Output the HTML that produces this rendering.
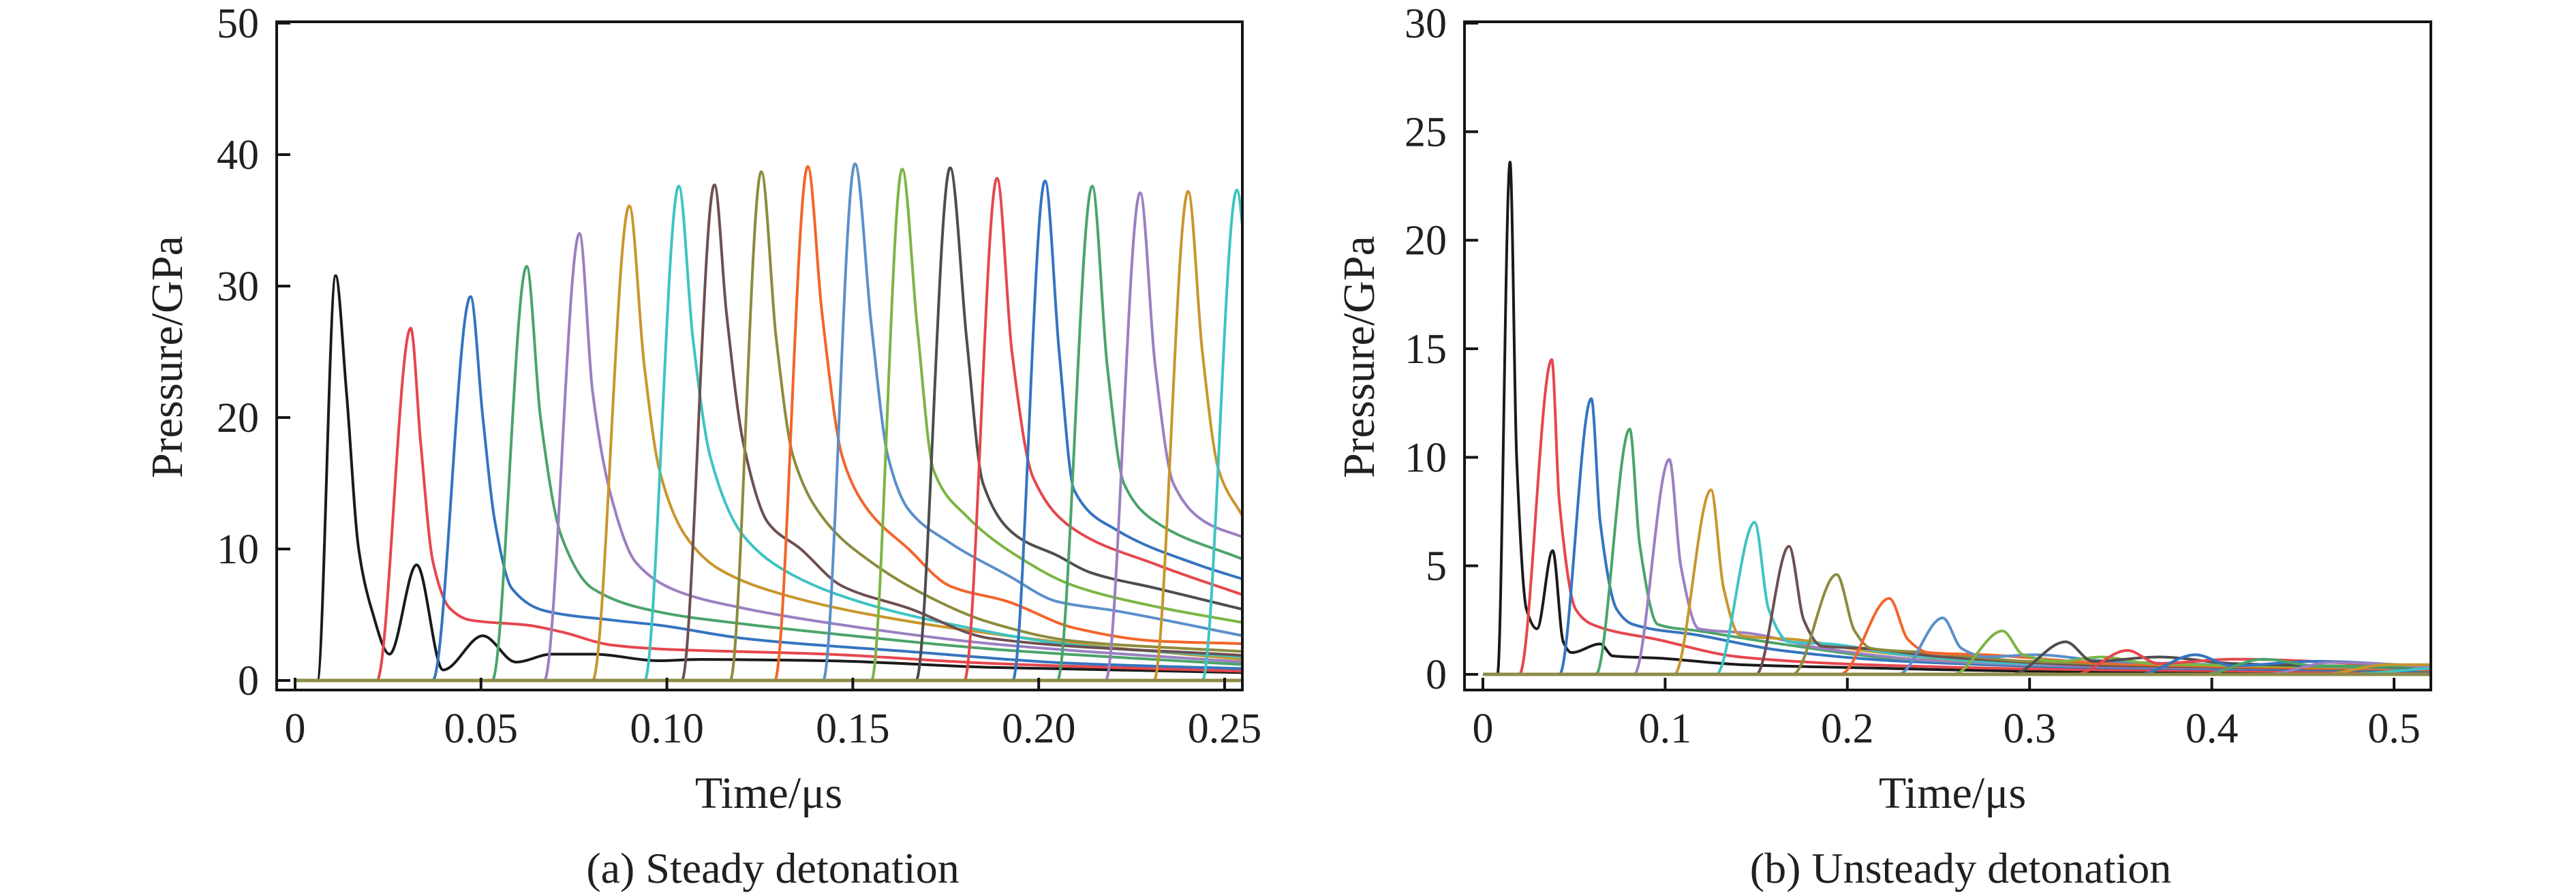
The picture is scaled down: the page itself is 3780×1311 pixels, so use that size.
<!DOCTYPE html>
<html><head><meta charset="utf-8"><style>
html,body{margin:0;padding:0;background:#fff;}
svg{display:block;}
text{font-family:"Liberation Serif",serif;fill:#231f20;}
</style></head><body>
<svg id="fig" width="3780" height="1311" viewBox="0 0 3780 1311" xmlns="http://www.w3.org/2000/svg"></svg>
<script>
// ---------- data: steady detonation (t in µs, p in GPa) ----------
const colors = ["#1a1a1a","#e5474d","#3474c0","#4ba46a","#9b7fc1","#c8962c","#3ec3c4","#6e4f50","#8d8b3d","#f2652a","#5b8fc9","#7cb544","#4d4d4d","#e5474d","#3474c0","#4ba46a","#9b7fc1","#c8962c","#3ec3c4"];
const steadyOnset = [0.006,0.022,0.037,0.053,0.067,0.080,0.094,0.104,0.117,0.129,0.142,0.155,0.167,0.180,0.193,0.205,0.218,0.231,0.244];
const steadyT = [
 [0.0109,0.0138,0.0171,0.0205,0.0254,0.0327,0.0398,0.0505,0.0594,0.069,0.080,0.098,0.109,0.143,0.187,0.255],
 [0.0311,0.0338,0.0371,0.0416,0.047,0.0627,0.0716,0.085,0.098,0.143,0.187,0.255],
 [0.0472,0.0505,0.0538,0.0583,0.0672,0.085,0.098,0.1206,0.165,0.2095,0.255],
 [0.0623,0.066,0.0716,0.080,0.098,0.1206,0.143,0.187,0.255],
 [0.0765,0.080,0.085,0.0916,0.1028,0.1206,0.143,0.187,0.255],
 [0.0899,0.0939,0.098,0.105,0.1139,0.1317,0.165,0.2095,0.255],
 [0.1032,0.107,0.1117,0.1206,0.134,0.154,0.176,0.2095,0.255],
 [0.1128,0.116,0.1206,0.1272,0.136,0.147,0.165,0.187,0.255],
 [0.1254,0.1294,0.134,0.143,0.154,0.1695,0.187,0.2095,0.255],
 [0.1379,0.1417,0.1472,0.154,0.165,0.176,0.1917,0.2095,0.2318,0.255],
 [0.1506,0.155,0.1595,0.165,0.176,0.1917,0.205,0.2206,0.255],
 [0.1633,0.1673,0.1717,0.1806,0.194,0.2095,0.2318,0.255],
 [0.1762,0.1806,0.185,0.194,0.205,0.214,0.2318,0.255],
 [0.1888,0.1928,0.1984,0.2095,0.2318,0.255],
 [0.2017,0.2055,0.2095,0.2206,0.2429,0.255],
 [0.2144,0.2184,0.2229,0.2318,0.255],
 [0.2273,0.2313,0.2362,0.2451,0.255],
 [0.2402,0.244,0.2484,0.255],
 [0.2533,0.256]
];
const steadyP = [
 [30.8,22,10,5.5,2.0,8.8,0.8,3.4,1.4,2.0,2.0,1.5,1.6,1.5,1.0,0.6],
 [26.8,18,9,5.5,4.6,4.2,3.7,2.7,2.4,2.0,1.3,0.7],
 [29.2,20,12,7,5.3,4.6,4.2,3.2,2.2,1.3,0.9],
 [31.5,20,11,7,5.2,4.3,3.6,2.4,1.2],
 [34.0,22,14,9,6.8,5.5,4.4,2.8,1.4],
 [36.1,24,16,11,8.5,6.5,4.5,2.8,1.6],
 [37.6,26,17,11,8,5.8,4.3,2.7,1.8],
 [37.7,28,18,12,10,7.2,5.5,3.2,1.9],
 [38.7,26,17,12,9.2,6.5,4.4,3.0,2.2],
 [39.1,28,17,13,10,7.2,6.0,4.0,3.0,2.8],
 [39.3,27,17,13,10.5,8,6,5.3,3.4],
 [38.9,27,16,12.5,9.5,7.2,5.6,4.4],
 [39.0,26,15,11,9.5,8.2,7,5.4],
 [38.2,25,15.5,11.5,8.8,6.5],
 [38.0,25,14.5,11.5,8.8,7.7],
 [37.6,24,15,12,9.2],
 [37.1,24,15,12,10.9],
 [37.2,25,16,12.4],
 [37.3,31]
];
// ---------- data: unsteady detonation ----------
const unsteadyOnset = [0.008,0.020,0.042,0.062,0.083,0.105,0.128,0.150,0.170,0.196,0.228,0.258,0.290,0.325,0.36,0.395,0.43,0.46,0.47];
const unsteadyT = [
 [0.0149,0.0185,0.0239,0.0297,0.0383,0.0441,0.0486,0.0644,0.0712,0.096,0.141,0.2086,0.2986,0.522],
 [0.0378,0.0419,0.0509,0.06,0.096,0.141,0.2086,0.3437,0.522],
 [0.0595,0.0644,0.0734,0.0824,0.1185,0.1635,0.231,0.3437,0.522],
 [0.0806,0.086,0.096,0.1185,0.1635,0.231,0.3437,0.522],
 [0.1023,0.1086,0.1185,0.1455,0.186,0.2536,0.3887,0.522],
 [0.1252,0.132,0.141,0.1725,0.2086,0.2761,0.522],
 [0.1491,0.1568,0.168,0.1905,0.231,0.2986,0.522],
 [0.168,0.1761,0.186,0.2086,0.2536,0.3437,0.522],
 [0.1941,0.204,0.213,0.2446,0.2986,0.522],
 [0.223,0.2333,0.2446,0.2761,0.3437,0.522],
 [0.2523,0.2626,0.2761,0.3032,0.3437,0.522],
 [0.2851,0.2964,0.3167,0.3392,0.3662,0.522],
 [0.3198,0.3347,0.3707,0.4113,0.522],
 [0.3536,0.3707,0.4113,0.522],
 [0.391,0.4113,0.4563,0.522],
 [0.4284,0.4563,0.522],
 [0.4653,0.522],
 [0.4968,0.522],
 [0.522]
];
const unsteadyP = [
 [23.6,10,3,2.1,5.7,1.5,1.0,1.4,0.85,0.75,0.45,0.3,0.15,0.05],
 [14.5,8,3,2.3,1.6,0.8,0.45,0.2,0.1],
 [12.7,7,3,2.3,1.8,1.1,0.6,0.3,0.15],
 [11.3,6,2.3,2.0,1.4,0.7,0.35,0.2],
 [9.9,5,2.1,1.9,1.2,0.6,0.3,0.25],
 [8.5,4,1.8,1.6,1.1,0.6,0.35],
 [7.0,3,1.5,1.4,0.9,0.5,0.35],
 [5.9,2.5,1.3,1.2,0.8,0.4,0.2],
 [4.6,2,1.2,1.0,0.6,0.2],
 [3.5,1.6,1.0,0.9,0.5,0.2],
 [2.6,1.2,0.8,0.9,0.6,0.25],
 [2.0,0.9,0.6,0.8,0.5,0.3],
 [1.5,0.6,0.8,0.5,0.3],
 [1.1,0.5,0.7,0.3],
 [0.9,0.4,0.6,0.35],
 [0.7,0.4,0.35],
 [0.55,0.35],
 [0.45,0.45],
 [0.3]
];
const steadyXTicks = [0,0.05,0.10,0.15,0.20,0.25];
const steadyXLabels = ["0","0.05","0.10","0.15","0.20","0.25"];
const steadyYTicks = [0,10,20,30,40,50];
const unsteadyXTicks = [0,0.1,0.2,0.3,0.4,0.5];
const unsteadyXLabels = ["0","0.1","0.2","0.3","0.4","0.5"];
const unsteadyYTicks = [0,5,10,15,20,25,30];

const NS="http://www.w3.org/2000/svg";
const svg=document.getElementById('fig');
function mk(tag,attrs,parent){const e=document.createElementNS(NS,tag);for(const k in attrs)e.setAttribute(k,attrs[k]);(parent||svg).appendChild(e);return e;}

function monotonePath(pts){
  const n=pts.length; if(n<2) return "";
  const dx=[],m=[],s=[];
  for(let i=0;i<n-1;i++){dx[i]=pts[i+1][0]-pts[i][0];s[i]=(pts[i+1][1]-pts[i][1])/(dx[i]||1e-9);}
  m[0]=s[0];m[n-1]=s[n-2];
  for(let i=1;i<n-1;i++){ if(s[i-1]*s[i]<=0) m[i]=0; else { const w1=2*dx[i]+dx[i-1], w2=dx[i]+2*dx[i-1]; m[i]=(w1+w2)/(w1/s[i-1]+w2/s[i]); } }
  let d="M"+pts[0][0].toFixed(1)+","+pts[0][1].toFixed(1);
  for(let i=0;i<n-1;i++){const h=dx[i]/3;
    d+="C"+(pts[i][0]+h).toFixed(1)+","+(pts[i][1]+m[i]*h).toFixed(1)+" "+(pts[i+1][0]-h).toFixed(1)+","+(pts[i+1][1]-m[i+1]*h).toFixed(1)+" "+pts[i+1][0].toFixed(1)+","+pts[i+1][1].toFixed(1);}
  return d;
}

function panel(cfg){
  const g=mk('g',{});
  
  
  const X=t=>cfg.x0+(t-cfg.t0)*cfg.xs, Y=p=>cfg.y0-p*cfg.ys;
  const cid='clip-'+cfg.name;
  const cp=mk('clipPath',{id:cid},g);
  mk('rect',{x:cfg.L,y:cfg.T,width:cfg.R-cfg.L,height:cfg.B-cfg.T},cp);
  const lines=mk('g',{'clip-path':'url(#'+cid+')'},g);
  
  
  for(let i=0;i<cfg.T_.length;i++){
    const pts=[[X(0),Y(0)],[X(cfg.onset[i]),Y(0)]];
    for(let j=0;j<cfg.T_[i].length;j++) pts.push([X(cfg.T_[i][j]),Y(cfg.P_[i][j])]);
    const p=mk('path',{d:monotonePath(pts),fill:'none',stroke:colors[i],'stroke-width':4,'stroke-linejoin':'round'},lines);
    
    
  }
  const bl=mk('line',{x1:X(0),x2:cfg.R,y1:Y(0),y2:Y(0),stroke:'#8d8b47','stroke-width':5},lines);
  
  
  const fr=mk('rect',{x:cfg.L,y:cfg.T,width:cfg.R-cfg.L,height:cfg.B-cfg.T,fill:'none',stroke:'#151515','stroke-width':4},g);
  
  
  cfg.xt.forEach((t,i)=>{
    const x=X(t);
    const tk=mk('line',{x1:x,x2:x,y1:cfg.B,y2:cfg.B-18,stroke:'#151515','stroke-width':4},g);
    
    
    const tx=mk('text',{x:x,y:1090,'font-size':62,'text-anchor':'middle'},g);
    tx.textContent=cfg.xl[i];
    
    
  });
  cfg.yt.forEach(v=>{
    const y=Y(v);
    const tk=mk('line',{x1:cfg.L,x2:cfg.L+20,y1:y,y2:y,stroke:'#151515','stroke-width':4},g);
    
    
    const tx=mk('text',{x:cfg.L-26,y:y+21,'font-size':62,'text-anchor':'end'},g);
    tx.textContent=String(v);
    
    
  });
  const yt=mk('text',{x:0,y:0,'font-size':66,'text-anchor':'middle',transform:'translate('+(cfg.ytx+22)+',524) rotate(-90)'},g);
  yt.textContent='Pressure/GPa';
  
  
  const xt=mk('text',{x:cfg.xtx,y:1186,'font-size':66,'text-anchor':'middle'},g);
  xt.textContent='Time/μs';
  
  
  const cap=mk('text',{x:cfg.capx,y:1296,'font-size':64,'text-anchor':'middle'},g);
  cap.textContent=cfg.caption;
  
  
}

panel({name:'steady-panel',L:406,R:1823,T:32,B:1013,x0:433,t0:0,xs:(1797-433)/0.25,y0:999,ys:(999-34)/50,
  onset:steadyOnset,T_:steadyT,P_:steadyP,xt:steadyXTicks,xl:steadyXLabels,yt:steadyYTicks,
  ytx:245,xtx:1128,capx:1134,caption:'(a) Steady detonation'});
panel({name:'unsteady-panel',L:2149,R:3567,T:32,B:1013,x0:2176,t0:0,xs:(3513-2176)/0.5,y0:990,ys:(990-34)/30,
  onset:unsteadyOnset,T_:unsteadyT,P_:unsteadyP,xt:unsteadyXTicks,xl:unsteadyXLabels,yt:unsteadyYTicks,
  ytx:1994,xtx:2865,capx:2877,caption:'(b) Unsteady detonation'});
</script>
</body></html>
